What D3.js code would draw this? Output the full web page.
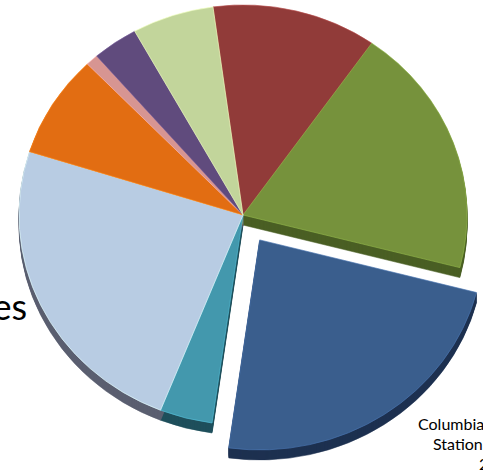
<!DOCTYPE html>
<html>
<head>
<meta charset="utf-8">
<script src="https://cdn.jsdelivr.net/npm/d3@7"></script>
<style>
  html, body { margin: 0; padding: 0; background: #ffffff; overflow: hidden; }
  svg { display: block; }
</style>
</head>
<body>
<svg id="chart" width="483" height="475"></svg>
<script>
// Data (clockwise from top)
const categories = ["Red", "Green", "Columbia Station", "Teal", "Light blue", "Orange", "Pink", "Purple", "Light green"];
const values = [11.9, 19.3, 23.2, 3.8, 23.9, 7.9, 0.9, 3.3, 5.9];
const topColors = ["#913b39", "#76923c", "#3a5e8d", "#4398ad", "#b8cce3", "#e26d12", "#d79592", "#604b7d", "#c2d59b"];
const sideColors = ["#5e2322", "#4a5f24", "#1d3150", "#1f4f5c", "#5b5f70", "#8a410a", "#8a5a58", "#3a2d4c", "#7d8a62"];
const explodedIndex = 2;
const labelLines = ["Columbia", "Station", "2"];

const svg = d3.select("#chart");
const cx = 243, cy = 215;
const rx = 224, ry = 210;
const depth = 10;
const explode = 30;

const startA = -7.7 * Math.PI / 180;
const pie = d3.pie().sort(null).startAngle(startA).endAngle(startA + 2 * Math.PI);
const arcs = pie(values);
const arc = d3.arc().innerRadius(0).outerRadius(rx);

// Title fragment clipped at left
svg.append("text")
  .attr("x", 27).attr("y", 320)
  .attr("text-anchor", "end")
  .attr("font-family", "Lato, 'Open Sans', sans-serif")
  .attr("font-size", 36)
  .attr("fill", "#000")
  .text("es");

function offsetOf(d, i) {
  if (i !== explodedIndex) return [0, 0];
  const m = (d.startAngle + d.endAngle) / 2;
  return [explode * Math.sin(m), -explode * Math.cos(m)];
}

const g = svg.append("g");

// Side faces (extrusion)
arcs.forEach((d, i) => {
  const [ox, oy] = offsetOf(d, i);
  for (let k = depth; k >= 1; k--) {
    g.append("path")
      .attr("transform", `translate(${cx + ox},${cy + oy + k}) scale(1,${ry / rx})`)
      .attr("d", arc(d))
      .attr("fill", sideColors[i])
      .attr("stroke", sideColors[i])
      .attr("stroke-width", 0.6);
  }
});

// Top faces
arcs.forEach((d, i) => {
  const [ox, oy] = offsetOf(d, i);
  g.append("path")
    .attr("transform", `translate(${cx + ox},${cy + oy}) scale(1,${ry / rx})`)
    .attr("d", arc(d))
    .attr("fill", topColors[i])
    .attr("stroke", d3.color(topColors[i]).brighter(0.6))
    .attr("stroke-width", 0.7);
});

// Label of exploded slice (clipped at right edge, as in the reference)
const lbl = svg.append("g")
  .attr("font-family", "Lato, 'Open Sans', sans-serif")
  .attr("font-size", 16)
  .attr("fill", "#000");
const lx = [418, 433, 479];
const ly = [430, 450, 470];
labelLines.forEach((t, j) => {
  lbl.append("text").attr("x", lx[j]).attr("y", ly[j]).text(t);
});
</script>
</body>
</html>
